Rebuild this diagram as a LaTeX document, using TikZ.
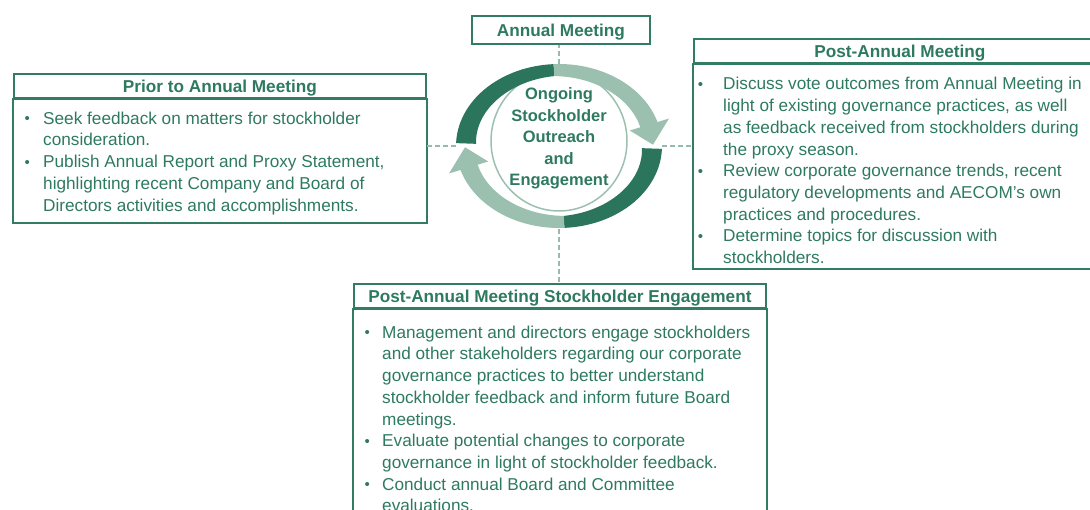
\documentclass[tikz,border=0pt]{standalone}
\usepackage{fontspec}
\setmainfont{Liberation Sans}
\definecolor{textgrn}{RGB}{46,122,96}
\definecolor{boxgrn}{RGB}{50,124,99}
\definecolor{darkgrn}{RGB}{44,117,93}
\definecolor{litegrn}{RGB}{155,192,176}
\definecolor{dashgrn}{RGB}{150,186,171}
\newcommand{\bodyfont}{\fontsize{17.2}{21.7}\selectfont}
\newcommand{\hdfont}{\fontsize{17.2}{20}\selectfont\bfseries}
\newcommand{\hubfont}{\fontsize{16.5}{21.5}\selectfont\bfseries}
\newcommand{\itm}[1]{\llap{\raisebox{0.5pt}{\fontsize{15}{15}\selectfont\textbullet}\hspace{#1}}}
\tikzset{
  frame/.style={draw=boxgrn, line width=1.8pt},
  header/.style={frame, anchor=north west, minimum width=412pt, minimum height=24pt,
    inner sep=0pt, text height=12.3pt, text depth=0pt, font=\hdfont, text=textgrn},
  bodytext/.style={anchor=base west, inner sep=0pt, font=\bodyfont, text=textgrn},
  link/.style={draw=dashgrn, line width=1.6pt, dash pattern=on 5pt off 3pt},
}
\begin{document}
\begin{tikzpicture}[x=1pt,y=1pt]
  \useasboundingbox (0,0) rectangle (1090,509);
  \clip (0,0) rectangle (1090,509);

  % headers
  \node[header, minimum width=178pt, minimum height=28pt] (annual) at (471,494) {Annual Meeting};
  \node[header] (priorhd)  at (13,436)  {Prior to Annual Meeting};
  \node[header] (posthd)   at (693,471) {Post-Annual Meeting};
  \node[header] (engagehd) at (353,226) {Post-Annual Meeting Stockholder Engagement};

  % frames below the headers
  \draw[frame] (priorhd.south west)  rectangle ([yshift=-124pt]priorhd.south east);
  \draw[frame] (posthd.south west)   rectangle ([yshift=-205pt]posthd.south east);
  \draw[frame] (engagehd.south west) rectangle ([yshift=-230pt]engagehd.south east);

  % box texts
  \node[bodytext] (priortxt) at (43,384.7) {\begin{tabular}[t]{@{}l@{}}
    \itm{13.4pt}Seek feedback on matters for stockholder\\
    consideration.\\
    \itm{13.4pt}Publish Annual Report and Proxy Statement,\\
    highlighting recent Company and Board of\\
    Directors activities and accomplishments.
  \end{tabular}};
  \node[bodytext] (posttxt) at (723,419) {\begin{tabular}[t]{@{}l@{}}
    \itm{20pt}Discuss vote outcomes from Annual Meeting in\\
    light of existing governance practices, as well\\
    as feedback received from stockholders during\\
    the proxy season.\\
    \itm{20pt}Review corporate governance trends, recent\\
    regulatory developments and AECOM’s own\\
    practices and procedures.\\
    \itm{20pt}Determine topics for discussion with\\
    stockholders.
  \end{tabular}};
  \node[bodytext] (engagetxt) at (382,170.7) {\begin{tabular}[t]{@{}l@{}}
    \itm{12.4pt}Management and directors engage stockholders\\
    and other stakeholders regarding our corporate\\
    governance practices to better understand\\
    stockholder feedback and inform future Board\\
    meetings.\\
    \itm{12.4pt}Evaluate potential changes to corporate\\
    governance in light of stockholder feedback.\\
    \itm{12.4pt}Conduct annual Board and Committee\\
    evaluations.
  \end{tabular}};

  % cycle in the middle
  \draw[litegrn, line width=1.5pt] (559,368) ellipse [x radius=68, y radius=70];
  \foreach \r in {0,180}{
    \begin{scope}[shift={(559,363)}, rotate=\r]
      \fill[darkgrn] plot[domain=178:93, samples=30] ({103*cos(\x)},{82*sin(\x)})
        -- plot[domain=93:178, samples=30] ({(91-8*(\x-93)/85)*cos(\x)},{(70-8*(\x-93)/85)*sin(\x)}) -- cycle;
      \fill[litegrn] plot[domain=93:17, samples=30] ({103*cos(\x)},{82*sin(\x)})
        -- ({115*cos(17)},{94*sin(17)}) -- ({94*cos(1)},{73*sin(1)}) -- ({74*cos(17)},{53*sin(17)})
        -- plot[domain=17:93, samples=30] ({(91-6*(93-\x)/76)*cos(\x)},{(70-6*(93-\x)/76)*sin(\x)}) -- cycle;
    \end{scope}
  }
  \node[anchor=base, inner sep=0pt, font=\hubfont, text=textgrn] (hub) at (559,409)
    {\begin{tabular}[t]{@{}c@{}}Ongoing\\Stockholder\\Outreach\\and\\Engagement\end{tabular}};

  % dashed links
  \coordinate (ringN) at (559,445);
  \coordinate (ringS) at (559,280);
  \coordinate (ringW) at (456,363);
  \coordinate (ringE) at (662,363);
  \draw[link] (ringN) -- (ringN |- annual.south);
  \draw[link] (ringS) -- (ringS |- engagehd.north);
  \draw[link] (ringW) -- (ringW -| priorhd.east);
  \draw[link] (ringE) -- (ringE -| posthd.west);
\end{tikzpicture}
\end{document}
